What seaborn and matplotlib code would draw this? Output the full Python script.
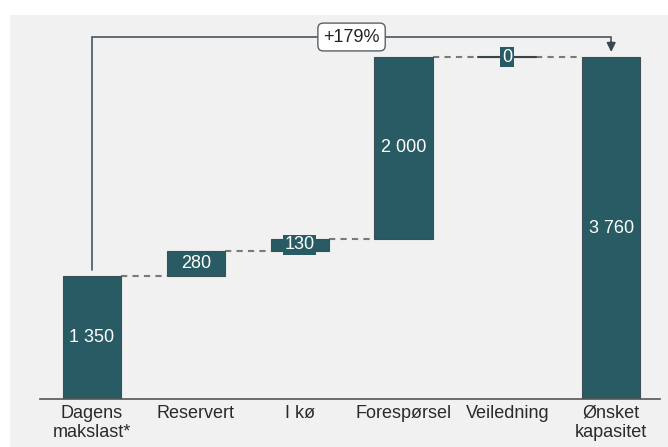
import matplotlib
matplotlib.use("Agg")
import matplotlib.pyplot as plt
import seaborn as sns
import pandas as pd
from matplotlib.patches import Rectangle

categories = ["Dagens\nmakslast*", "Reservert", "I kø", "Forespørsel", "Veiledning", "Ønsket\nkapasitet"]
values = [1350, 280, 130, 2000, 0, 3760]
labels = ["1 350", "280", "130", "2 000", "0", "3 760"]
is_total = [True, False, False, False, False, True]

# floating bottoms for the waterfall
bottoms = []
running = 0
for v, t in zip(values, is_total):
    if t:
        bottoms.append(0)
        running = v
    else:
        bottoms.append(running)
        running += v

df = pd.DataFrame({"cat": categories, "val": values, "bottom": bottoms})

sns.set_theme(style="white")
plt.rcParams["font.family"] = ["Liberation Sans", "DejaVu Sans"]

BAR = "#285b64"
EDGE = "#3c4f55"
PANEL = "#f1f1f1"

fig = plt.figure(figsize=(6.68, 4.47), dpi=100, facecolor="white")
fig.patches.append(Rectangle((10 / 668, 0), 1, 1 - 15 / 447, transform=fig.transFigure,
                             facecolor=PANEL, edgecolor="none", zorder=-10))
ax = fig.add_axes([40 / 668, 48 / 447, 620 / 668, 384 / 447])
ax.set_facecolor("none")

width = 0.56
sns.barplot(data=df, x="cat", y="val", bottom=df["bottom"].values, color=BAR,
            saturation=1, width=width, edgecolor=EDGE, linewidth=0.8, ax=ax, zorder=3)

# connectors
tops = [b + v for b, v in zip(bottoms, values)]
for i in range(len(values) - 1):
    ax.plot([i + width / 2, i + 1 - width / 2], [tops[i], tops[i]], color="#7a7a7a",
            ls=(0, (3, 2.5)), lw=1.5, zorder=2)
# zero-height bar line
for i, v in enumerate(values):
    if v == 0:
        ax.plot([i - width / 2, i + width / 2], [tops[i], tops[i]], color="#3a4448", lw=1.5, zorder=3)

# bar labels
for i, (b, v, lab) in enumerate(zip(bottoms, values, labels)):
    ax.text(i, b + v / 2, lab, ha="center", va="center", color="white", fontsize=13, zorder=5,
            bbox=dict(boxstyle="square,pad=0.1", facecolor=BAR, edgecolor="none"))

# growth arrow
growth = (values[-1] / values[0] - 1) * 100
y_top = 3980
y_start = values[0] + 68
ax.plot([0, 0, len(values) - 1, len(values) - 1], [y_start, y_top, y_top, values[-1] + 160],
        color="#4a5560", lw=1.2, zorder=4, solid_joinstyle="miter")
ax.annotate("", xy=(len(values) - 1, values[-1] + 55), xytext=(len(values) - 1, values[-1] + 170),
            arrowprops=dict(arrowstyle="-|>,head_length=0.45,head_width=0.22", color="#3b4550", lw=1.2,
                            shrinkA=0, shrinkB=0), zorder=4)
ax.text(2.5, y_top, f"+{growth:.0f}%", ha="center", va="center", fontsize=13, color="#222222", zorder=6,
        bbox=dict(boxstyle="round,pad=0.3,rounding_size=0.3", facecolor="white", edgecolor="#5a6068", lw=1))

ax.set_xlim(-0.5, 5.47)
ax.set_ylim(0, 4222)
ax.set_xlabel("")
ax.set_ylabel("")
ax.set_yticks([])
for s in ["top", "right", "left"]:
    ax.spines[s].set_visible(False)
ax.spines["bottom"].set_color("#555555")
ax.spines["bottom"].set_linewidth(1.2)
ax.spines["bottom"].set_zorder(6)
ax.tick_params(axis="x", length=0, pad=4, labelsize=13, labelcolor="#2a2a2a")

fig.savefig("out.png", dpi=100, facecolor="white")
